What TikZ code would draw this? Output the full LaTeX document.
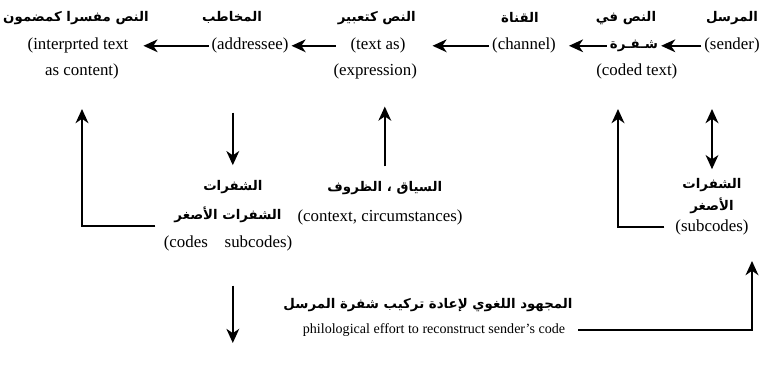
\documentclass[tikz,border=0pt]{standalone}
\usepackage{fontspec}
\setmainfont{Liberation Serif}
\newfontfamily\arabicfont[Script=Arabic]{DejaVu Sans}
\TeXXeTstate=1
\usetikzlibrary{arrows.meta}
\newcommand{\artxt}[1]{\beginR #1\endR}

\begin{document}
\begin{tikzpicture}[
	arr/.style = {line width = 1.8 pt, -{Stealth[length=10pt, width=9pt, inset=3pt]}},
	darr/.style = {line width = 1.8 pt, {Stealth[length=10pt, width=9pt, inset=3pt]}-{Stealth[length=10pt, width=9pt, inset=3pt]}},
	en/.style = {font = \fontsize{12}{14}\selectfont, inner sep = 2 pt},
	small/.style = {font = \fontsize{10}{12}\selectfont, inner sep = 2 pt},
	ar/.style = {font = \fontsize{9.5}{12}\selectfont\arabicfont\bfseries, inner sep = 2 pt}]
	 \useasboundingbox (0, 0) rectangle (19.05, 9.125);

	 \node[ar] (interp_ar) at (1.9, 8.68) {\artxt{النص مفسرا كمضمون}};
	 \node[en] (interp_en) at (1.95, 7.98) {(interprted text};
	 \node[en] (interp_en2) at (2.05, 7.33) {as content)};
	 \node[ar] (addr_ar) at (5.8, 8.68) {\artxt{المخاطب}};
	 \node[en] (addr_en) at (6.25, 7.98) {(addressee)};
	 \node[ar] (expr_ar) at (9.42, 8.68) {\artxt{النص كتعبير}};
	 \node[en] (expr_en) at (9.45, 7.98) {(text as)};
	 \node[en] (expr_en2) at (9.38, 7.33) {(expression)};
	 \node[ar] (chan_ar) at (13.0, 8.68) {\artxt{القناة}};
	 \node[en] (chan_en) at (13.1, 7.98) {(channel)};
	 \node[ar] (coded_ar) at (15.65, 8.68) {\artxt{النص في}};
	 \node[ar] (coded_ar2) at (15.85, 7.98) {\artxt{شـفـرة}};
	 \node[en] (coded_en) at (15.92, 7.33) {(coded text)};
	 \node[ar] (send_ar) at (18.3, 8.68) {\artxt{المرسل}};
	 \node[en] (send_en) at (18.3, 7.98) {(sender)};

	 \node[ar] (codes_ar) at (5.82, 4.45) {\artxt{الشفرات}};
	 \node[ar] (codes_ar2) at (5.7, 3.75) {\artxt{الشفرات الأصغر}};
	 \node[en] (codes_en) at (5.7, 3.05) {(codes\quad subcodes)};
	 \node[ar] (ctx_ar) at (9.62, 4.42) {\artxt{السياق ، الظروف}};
	 \node[en] (ctx_en) at (9.5, 3.7) {(context, circumstances)};
	 \node[ar] (sub_ar) at (17.8, 4.5) {\artxt{الشفرات}};
	 \node[ar] (sub_ar2) at (17.8, 3.97) {\artxt{الأصغر}};
	 \node[en] (sub_en) at (17.8, 3.45) {(subcodes)};

	 \node[ar] (effort_ar) at (10.7, 1.5) {\artxt{المجهود اللغوي لإعادة تركيب شفرة المرسل}};
	 \node[small] (effort_en) at (10.85, 0.88) {philological effort to reconstruct sender’s code};

	 \coordinate (interp_up) at (2.05, 6.4);
	 \coordinate (coded_up) at (15.45, 6.4);
	 \coordinate (send_up) at (17.8, 6.4);
	 \coordinate (effort_down) at (5.82, 0.55);
	 \coordinate (send_back) at (18.8, 2.6);

	 \draw[arr] (send_en) -- (coded_ar2);
	 \draw[arr, shorten > = 0.25 cm] (coded_ar2) -- (chan_en);
	 \draw[arr, shorten > = 0.6 cm] (chan_en) -- (expr_en);
	 \draw[arr, shorten < = 0.3 cm] (expr_en) -- (addr_en);
	 \draw[arr, shorten > = 0.3 cm] (addr_en) -- (interp_en);

	 \draw[arr, shorten < = 1.4 cm, shorten > = 0.3 cm] (codes_ar.north |- addr_en.south) -- (codes_ar.north);
	 \draw[arr, shorten < = 0.3 cm, shorten > = 0.6 cm] (ctx_ar.north) -- (ctx_ar.north |- expr_en2.south);
	 \draw[arr, shorten < = 0.4 cm] (codes_ar2.south west) -| (interp_up);
	 \draw[arr, shorten < = 0.2 cm] (sub_en.west) -| (coded_up);
	 \draw[darr, shorten < = 0.15 cm] (sub_ar) -- (send_up);
	 \draw[arr, shorten < = 0.8 cm] (codes_en.south -| effort_down) -- (effort_down);
	 \draw[arr, shorten < = 0.25 cm] (effort_en.east) -| (send_back);
\end{tikzpicture}
\end{document}
